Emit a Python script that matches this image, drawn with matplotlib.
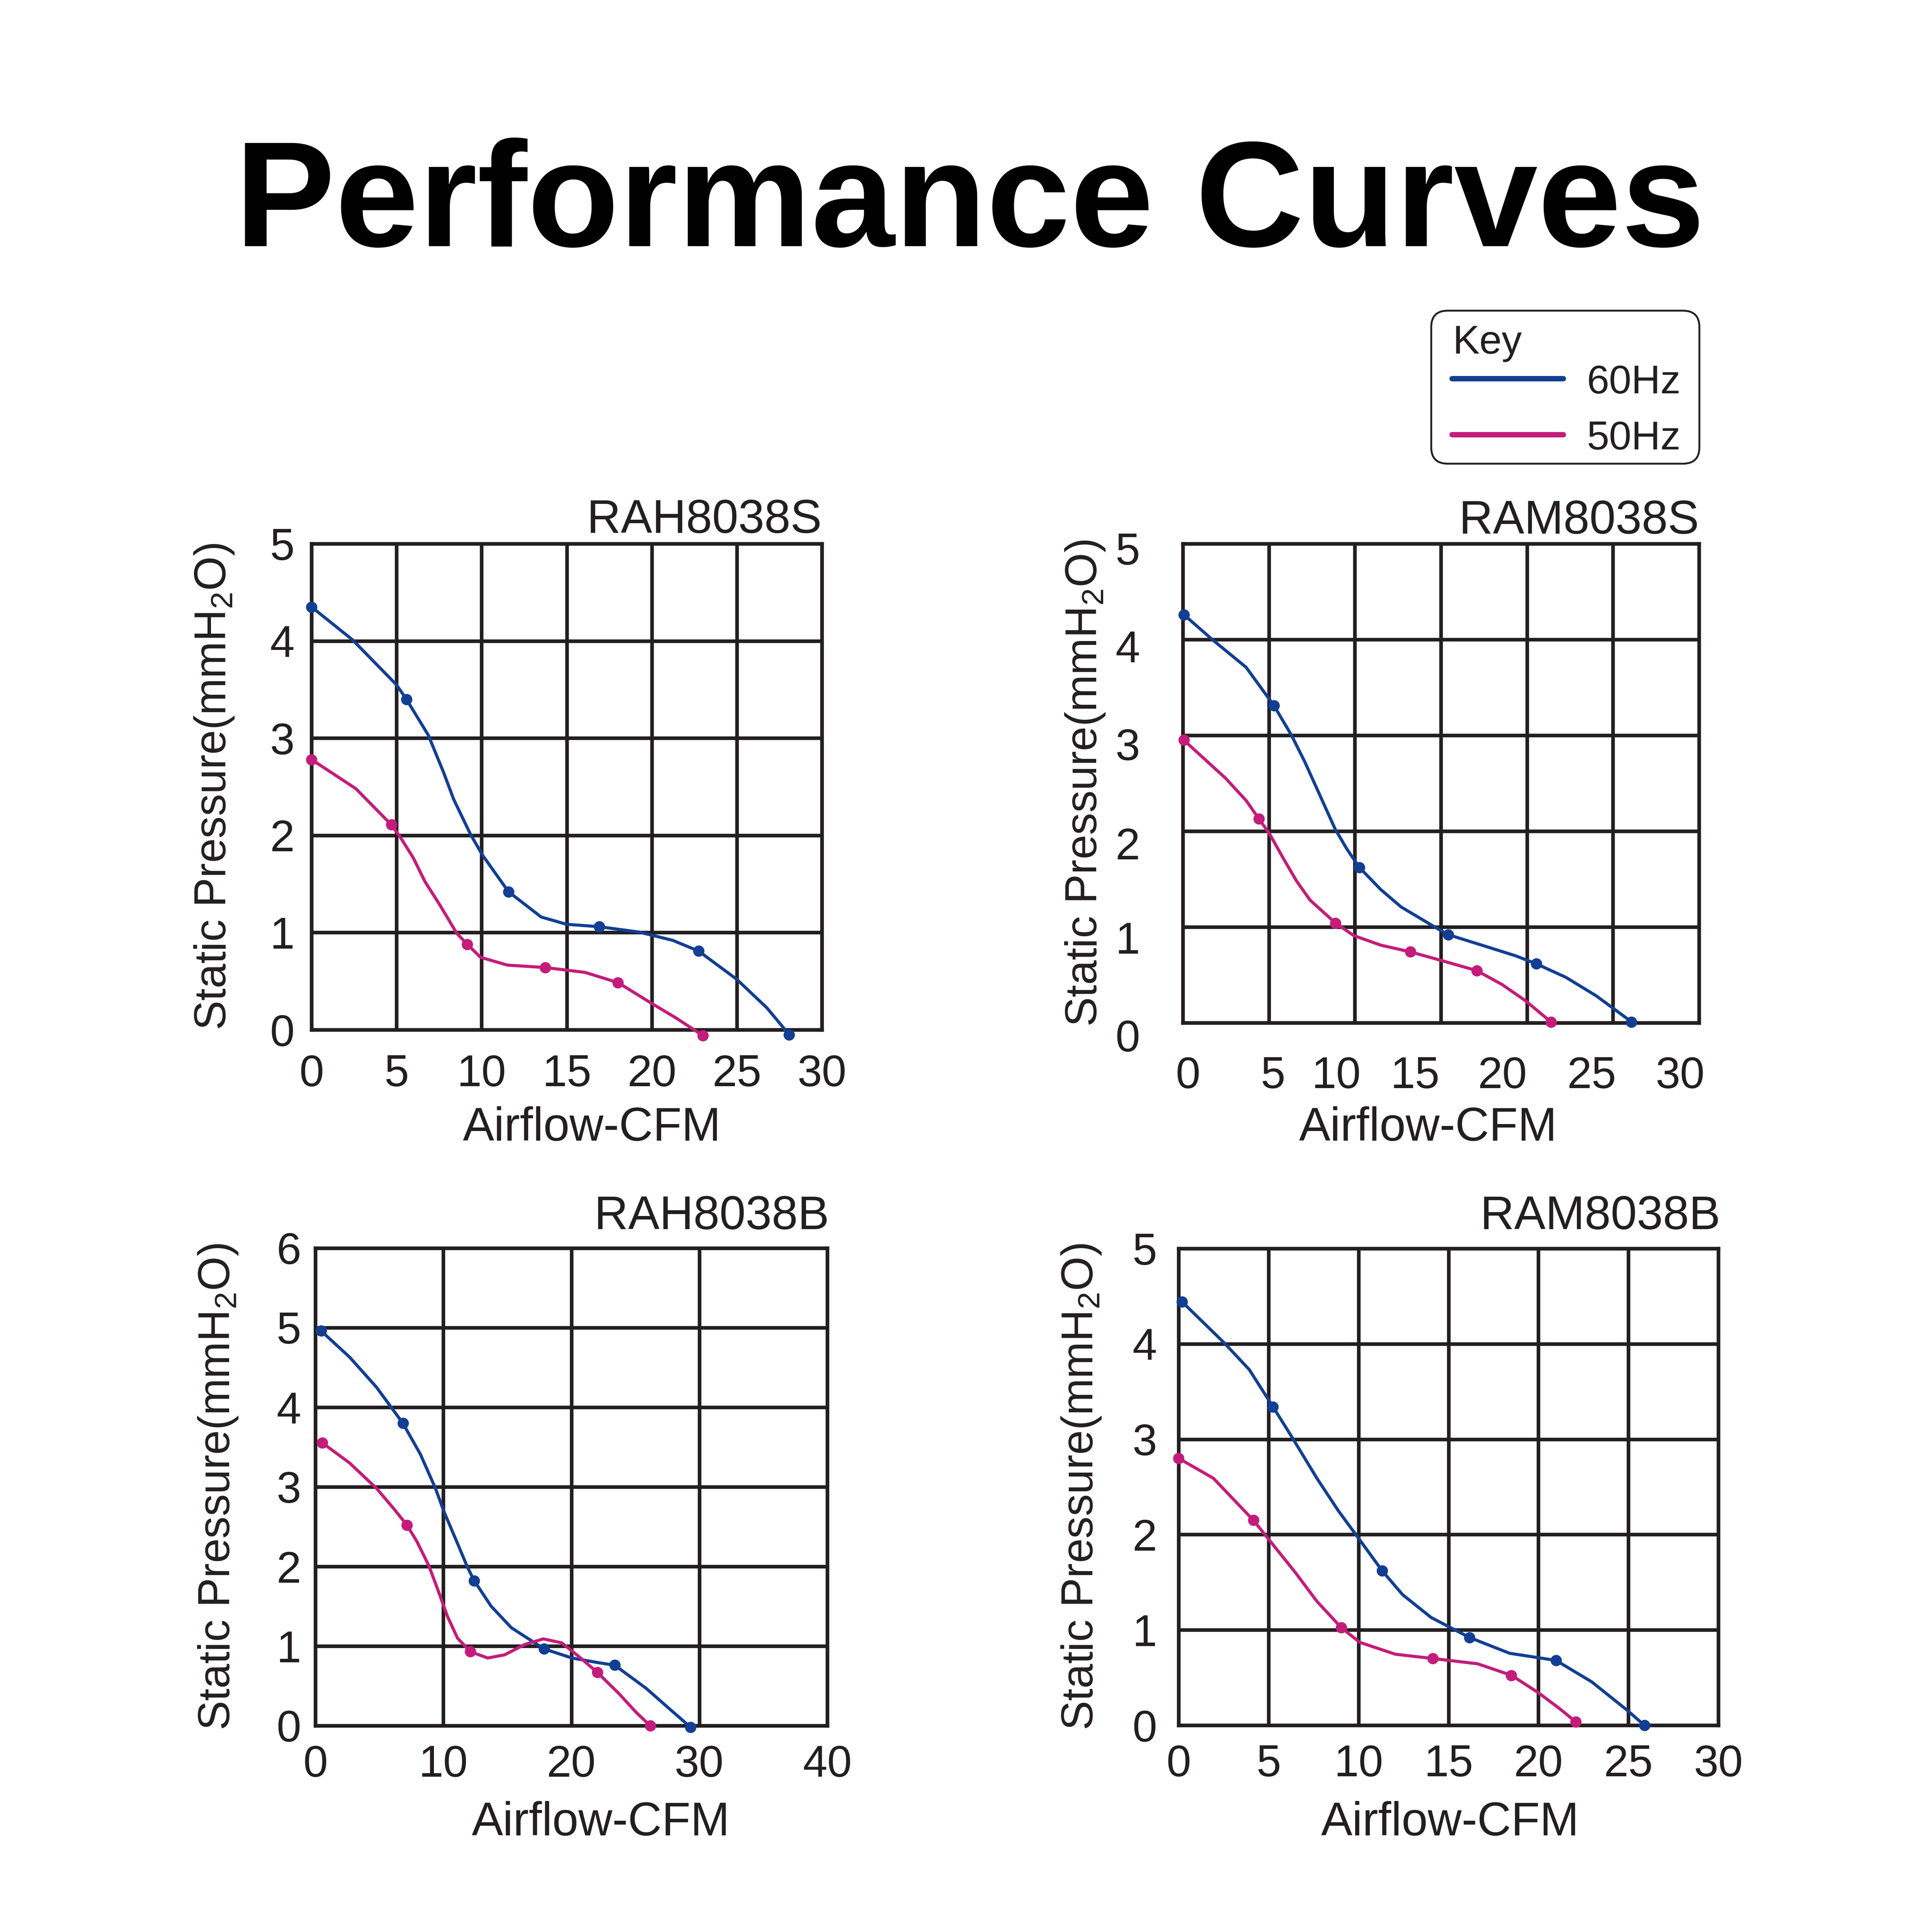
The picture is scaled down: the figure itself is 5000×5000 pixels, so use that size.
import numpy as np
import matplotlib
matplotlib.use('Agg')
import matplotlib.pyplot as plt
from matplotlib.patches import FancyBboxPatch
from matplotlib.lines import Line2D
from matplotlib.transforms import ScaledTranslation

plt.rcParams['font.family'] = ['Liberation Sans', 'DejaVu Sans']
plt.rcParams['mathtext.fontset'] = 'custom'
plt.rcParams['mathtext.rm'] = 'Liberation Sans'
plt.rcParams['mathtext.it'] = 'Liberation Sans:italic'
plt.rcParams['mathtext.bf'] = 'Liberation Sans:bold'

#Data (CFM, mmH2O)

# RAH8038S
rahs_60_x = [0, 5.58, 11.58, 16.91, 22.75, 28.08]
rahs_60_y = [4.35, 3.40, 1.42, 1.06, 0.81, -0.05]
rahs_60_cx = [0, 2.42, 4.99, 5.58, 6.87, 7.76, 8.36, 9.35, 10.04, 11.58, 13.5, 14.99, 16.91, 19.25, 21.23, 22.75, 24.99, 26.77, 28.08]
rahs_60_cy = [4.35, 4.01, 3.55, 3.40, 3.03, 2.65, 2.37, 2.01, 1.80, 1.42, 1.16, 1.085, 1.06, 1.005, 0.92, 0.81, 0.52, 0.225, -0.05]
rahs_50_x = [0, 4.69, 9.15, 13.74, 18.02, 23.01]
rahs_50_y = [2.78, 2.11, 0.88, 0.64, 0.485, -0.06]
rahs_50_cx = [0, 2.61, 4.69, 5.19, 5.98, 6.67, 7.56, 8.55, 9.15, 9.94, 11.52, 13.74, 16.08, 18.02, 19.94, 21.43, 23.01]
rahs_50_cy = [2.78, 2.48, 2.11, 1.99, 1.77, 1.525, 1.28, 0.99, 0.88, 0.745, 0.665, 0.64, 0.59, 0.485, 0.277, 0.121, -0.06]

# RAM8038S
rams_60_x = [0.06, 5.30, 10.27, 15.42, 20.55, 26.08]
rams_60_y = [4.26, 3.31, 1.62, 0.92, 0.615, 0.01]
rams_60_cx = [0.06, 1.71, 3.68, 5.30, 6.32, 7.10, 7.98, 8.86, 9.55, 10.27, 11.51, 12.68, 14.64, 15.42, 17.38, 19.33, 20.55, 22.27, 24.03, 26.08]
rams_60_cy = [4.26, 4.0, 3.71, 3.31, 3.00, 2.72, 2.37, 2.02, 1.81, 1.62, 1.39, 1.21, 1.00, 0.92, 0.81, 0.70, 0.615, 0.474, 0.281, 0.01]
rams_50_x = [0.06, 4.42, 8.88, 13.23, 17.08, 21.39]
rams_50_y = [2.95, 2.13, 1.04, 0.74, 0.545, 0.01]
rams_50_cx = [0.06, 2.50, 3.68, 4.42, 5.05, 5.83, 6.61, 7.40, 8.88, 9.94, 11.51, 13.23, 15.03, 17.08, 18.55, 19.92, 21.39]
rams_50_cy = [2.95, 2.55, 2.32, 2.13, 1.97, 1.72, 1.48, 1.28, 1.04, 0.91, 0.81, 0.74, 0.65, 0.545, 0.40, 0.23, 0.01]

# RAH8038B
rahb_60_x = [0.45, 6.84, 12.42, 17.87, 23.39, 29.32]
rahb_60_y = [4.96, 3.80, 1.82, 0.965, 0.76, -0.02]
rahb_60_cx = [0.45, 2.68, 4.79, 6.84, 8.21, 9.39, 10.05, 11.11, 11.89, 12.42, 13.74, 15.32, 17.87, 20.05, 22.16, 23.39, 25.84, 27.68, 29.32]
rahb_60_cy = [4.96, 4.63, 4.25, 3.80, 3.41, 2.98, 2.69, 2.29, 1.99, 1.82, 1.50, 1.23, 0.965, 0.85, 0.79, 0.76, 0.47, 0.21, -0.02]
rahb_50_x = [0.53, 7.16, 12.11, 22.03, 26.16]
rahb_50_y = [3.555, 2.52, 0.93, 0.67, 0.0]
rahb_50_cx = [0.53, 2.68, 4.79, 6.11, 7.16, 7.95, 8.87, 9.66, 10.32, 11.11, 12.11, 13.47, 14.79, 16.37, 17.82, 19.26, 20.58, 22.03, 23.74, 25.05, 26.16]
rahb_50_cy = [3.555, 3.30, 2.98, 2.73, 2.52, 2.31, 2.01, 1.67, 1.375, 1.10, 0.93, 0.85, 0.89, 1.02, 1.09, 1.04, 0.87, 0.67, 0.40, 0.17, 0.0]

# RAM8038B
ramb_60_x = [0.2, 5.25, 11.32, 16.18, 20.98, 25.89]
ramb_60_y = [4.44, 3.34, 1.62, 0.92, 0.68, 0.0]
ramb_60_cx = [0.2, 2.54, 3.93, 5.25, 6.31, 7.69, 8.88, 9.97, 11.32, 12.45, 14.04, 16.18, 18.40, 20.98, 22.96, 24.94, 25.89]
ramb_60_cy = [4.44, 4.01, 3.73, 3.34, 3.02, 2.59, 2.25, 1.97, 1.62, 1.37, 1.13, 0.92, 0.755, 0.68, 0.456, 0.157, 0.0]
ramb_50_x = [0, 4.16, 9.04, 14.14, 18.50, 22.07]
ramb_50_y = [2.80, 2.15, 1.025, 0.70, 0.524, 0.037]
ramb_50_cx = [0, 1.94, 4.16, 5.31, 6.50, 7.69, 9.04, 10.07, 12.05, 14.14, 16.62, 18.50, 19.98, 21.17, 22.07]
ramb_50_cy = [2.80, 2.59, 2.15, 1.88, 1.60, 1.30, 1.025, 0.87, 0.745, 0.70, 0.645, 0.524, 0.344, 0.176, 0.037]

models = ['RAH8038S', 'RAM8038S', 'RAH8038B', 'RAM8038B']
x_ticks = [[0, 5, 10, 15, 20, 25, 30], [0, 5, 10, 15, 20, 25, 30], [0, 10, 20, 30, 40], [0, 5, 10, 15, 20, 25, 30]]
y_ticks = [[0, 1, 2, 3, 4, 5], [0, 1, 2, 3, 4, 5], [0, 1, 2, 3, 4, 5, 6], [0, 1, 2, 3, 4, 5]]

series_60 = [(rahs_60_x, rahs_60_y, rahs_60_cx, rahs_60_cy), (rams_60_x, rams_60_y, rams_60_cx, rams_60_cy),
             (rahb_60_x, rahb_60_y, rahb_60_cx, rahb_60_cy), (ramb_60_x, ramb_60_y, ramb_60_cx, ramb_60_cy)]
series_50 = [(rahs_50_x, rahs_50_y, rahs_50_cx, rahs_50_cy), (rams_50_x, rams_50_y, rams_50_cx, rams_50_cy),
             (rahb_50_x, rahb_50_y, rahb_50_cx, rahb_50_cy), (ramb_50_x, ramb_50_y, ramb_50_cx, ramb_50_cy)]

#Layout (figure pixels out of 5000)
BLUE = '#123f94'
MAGENTA = '#c41c7a'
INK = '#231f20'
PX = 5000.0

boxes = [(806, 1407, 2127, 2665), (3061, 1407, 4397, 2647), (816, 3230, 2141, 4466), (3050, 3231, 4447, 4465)]
xpads = [9, 12.4, 7, 7]
ypads = [6.3, 16, 5.3, 8]
xlabel_pos = [(1532, 2952), (3696, 2952), (1555, 4750), (3753, 4750)]
title_pos = [(2127, 1379), (4397, 1381), (2146, 3181), (4452, 3181)]
# the second panel has its tick labels drawn a little off the grid lines
xtick_shift = [None, [13, 11, -48, -67, -64, -55, -49], None, None]
ytick_shift = [None, [-32, -28, -31, -23, -17, -12], None, None]

fig = plt.figure(figsize=(10, 10), dpi=500)
fig.patch.set_facecolor('white')

fig.text(0.502, 1 - 637 / PX, 'Performance Curves', ha='center', va='baseline',
         fontsize=56, fontweight='bold', color='black')

for i in range(4):
    l, t, r, b = boxes[i]
    ax = fig.add_axes([l / PX, 1 - b / PX, (r - l) / PX, (b - t) / PX])
    ax.set_xlim(x_ticks[i][0], x_ticks[i][-1])
    ax.set_ylim(y_ticks[i][0], y_ticks[i][-1])
    ax.set_xticks(x_ticks[i])
    ax.set_yticks(y_ticks[i])
    ax.grid(True, color=INK, linewidth=1.35)
    ax.set_axisbelow(True)
    for s in ax.spines.values():
        s.set_linewidth(1.35)
        s.set_color(INK)
    ax.tick_params(axis='x', length=0, pad=xpads[i], labelsize=16.5, labelcolor=INK)
    ax.tick_params(axis='y', length=0, pad=ypads[i], labelsize=16.5, labelcolor=INK)

    for (mx, my, cx, cy), col in [(series_60[i], BLUE), (series_50[i], MAGENTA)]:
        ax.plot(cx, cy, color=col, linewidth=1.15, solid_joinstyle='round', solid_capstyle='round',
                clip_on=False, zorder=3)
        ax.plot(mx, my, 'o', color=col, markersize=4.2, markeredgewidth=0, clip_on=False, zorder=4)

    if xtick_shift[i] is not None:
        for lab, dx in zip(ax.get_xticklabels(), xtick_shift[i]):
            lab.set_transform(lab.get_transform() + ScaledTranslation(dx / 500.0, 0, fig.dpi_scale_trans))
    if ytick_shift[i] is not None:
        for lab, dy in zip(ax.get_yticklabels(), ytick_shift[i]):
            lab.set_transform(lab.get_transform() + ScaledTranslation(0, dy / 500.0, fig.dpi_scale_trans))

    fig.text((l - 252) / PX, 1 - (t + b) / 2 / PX, 'Static Pressure(mmH$_2$O)', rotation=90,
             ha='center', va='center', fontsize=16.5, color=INK)
    fig.text(xlabel_pos[i][0] / PX, 1 - xlabel_pos[i][1] / PX, 'Airflow-CFM', ha='center',
             va='baseline', fontsize=17.5, color=INK)
    fig.text(title_pos[i][0] / PX, 1 - title_pos[i][1] / PX, models[i], ha='right',
             va='baseline', fontsize=17.5, color=INK)

#Key box
key = FancyBboxPatch((3704 / PX, 1 - 1200 / PX), (4398 - 3704) / PX, (1200 - 804) / PX,
                     boxstyle='round,pad=0,rounding_size=0.0085', transform=fig.transFigure,
                     facecolor='white', edgecolor=INK, linewidth=0.7)
fig.patches.append(key)
fig.text(3760 / PX, 1 - 915 / PX, 'Key', ha='left', va='baseline', fontsize=15, color=INK)
for yy, col, lab, base in [(980, BLUE, '60Hz', 1018), (1125, MAGENTA, '50Hz', 1163)]:
    fig.lines.append(Line2D([3758 / PX, 4046 / PX], [1 - yy / PX, 1 - yy / PX], transform=fig.transFigure,
                            color=col, linewidth=2.0, solid_capstyle='round'))
    fig.text(4350 / PX, 1 - base / PX, lab, ha='right', va='baseline', fontsize=15, color=INK)

fig.savefig('out.png', dpi=500, facecolor='white')
